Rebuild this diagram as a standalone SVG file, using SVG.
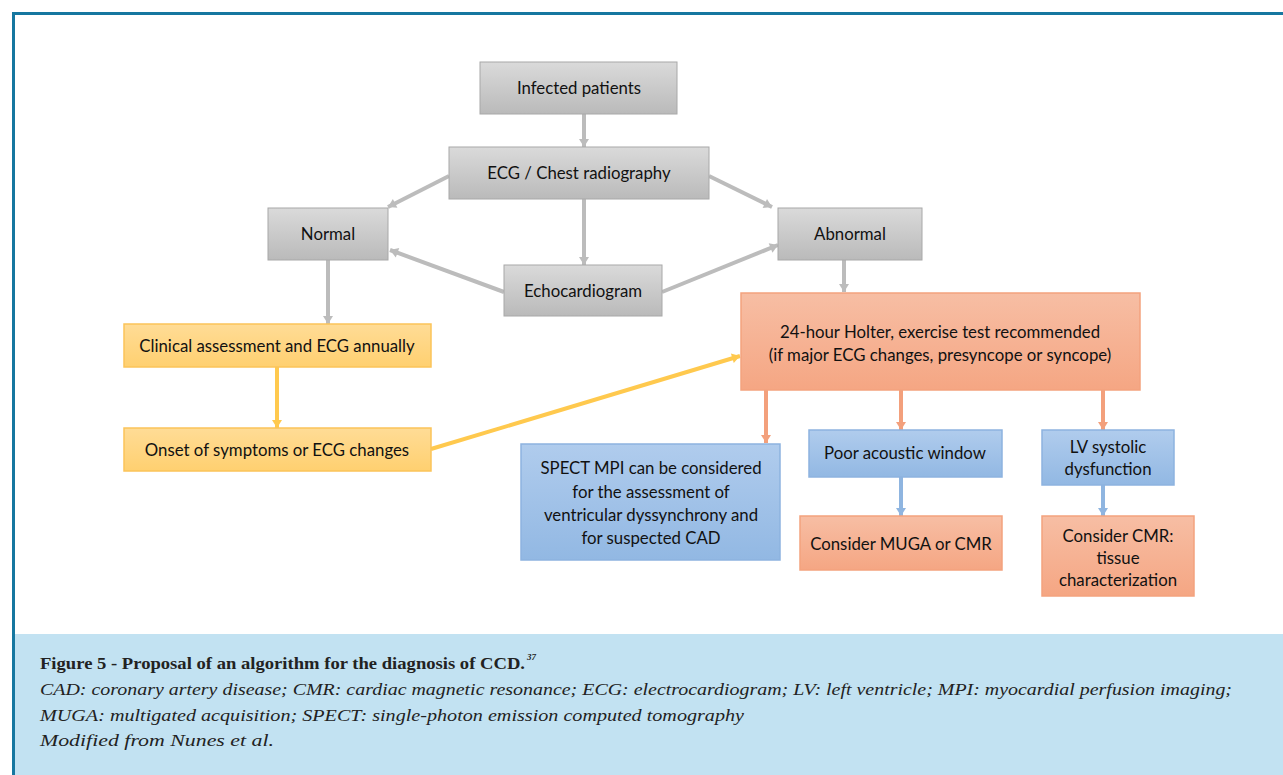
<svg xmlns="http://www.w3.org/2000/svg" width="1283" height="775" viewBox="0 0 1283 775">
<defs>
<linearGradient id="gGray" x1="0" y1="0" x2="0" y2="1"><stop offset="0" stop-color="#dadada"/><stop offset="1" stop-color="#bababa"/></linearGradient>
<linearGradient id="gYel" x1="0" y1="0" x2="0" y2="1"><stop offset="0" stop-color="#ffdc96"/><stop offset="1" stop-color="#ffd070"/></linearGradient>
<linearGradient id="gOra" x1="0" y1="0" x2="0" y2="1"><stop offset="0" stop-color="#f7bea4"/><stop offset="1" stop-color="#f5a683"/></linearGradient>
<linearGradient id="gBlu" x1="0" y1="0" x2="0" y2="1"><stop offset="0" stop-color="#b0cced"/><stop offset="1" stop-color="#92b8e3"/></linearGradient>
<marker id="aGray" markerUnits="userSpaceOnUse" markerWidth="12" markerHeight="12" viewBox="0 0 12 12" refX="10" refY="6" orient="auto"><path d="M2,1 L10,6 L2,11 Z" fill="#bcbcbc"/></marker>
<marker id="aYel" markerUnits="userSpaceOnUse" markerWidth="12" markerHeight="12" viewBox="0 0 12 12" refX="10" refY="6" orient="auto"><path d="M2,1 L10,6 L2,11 Z" fill="#ffc94e"/></marker>
<marker id="aOra" markerUnits="userSpaceOnUse" markerWidth="12" markerHeight="12" viewBox="0 0 12 12" refX="10" refY="6" orient="auto"><path d="M2,1 L10,6 L2,11 Z" fill="#f3a07c"/></marker>
<marker id="aBlu" markerUnits="userSpaceOnUse" markerWidth="12" markerHeight="12" viewBox="0 0 12 12" refX="10" refY="6" orient="auto"><path d="M2,1 L10,6 L2,11 Z" fill="#8fb5e0"/></marker>
</defs>
<style>
.gray{fill:url(#gGray);stroke:#a8a8a8;stroke-width:1}
.yel{fill:url(#gYel);stroke:#fbc45a;stroke-width:1.5}
.ora{fill:url(#gOra);stroke:#f3a27e;stroke-width:1.5}
.blu{fill:url(#gBlu);stroke:#8db3df;stroke-width:1.5}
.t{font-family:Lato,"Open Sans",sans-serif;font-size:16.8px;fill:#111;text-anchor:middle}
.cg{stroke:#bcbcbc;stroke-width:4;fill:none;marker-end:url(#aGray)}
.cy{stroke:#ffc94e;stroke-width:4;fill:none;marker-end:url(#aYel)}
.co{stroke:#f3a07c;stroke-width:4;fill:none;marker-end:url(#aOra)}
.cb{stroke:#8fb5e0;stroke-width:4;fill:none;marker-end:url(#aBlu)}
.cap{font-family:"Liberation Serif","DejaVu Serif",serif;font-size:17.5px;fill:#222}
.sup{font-family:"Liberation Serif","DejaVu Serif",serif;font-size:9px;font-weight:bold;font-style:italic;fill:#222}
</style>
<rect x="0" y="0" width="1283" height="775" fill="#ffffff"/>
<rect x="14" y="634" width="1269" height="141" fill="#c2e2f2"/>
<path d="M13.5,775 L13.5,13.5 L1283,13.5" fill="none" stroke="#1677a0" stroke-width="3"/>

<g id="connectors">
<line class="cg" x1="584" y1="114" x2="584" y2="147"/>
<line class="cg" x1="449" y1="176" x2="388" y2="207"/>
<line class="cg" x1="709" y1="176" x2="772" y2="207"/>
<line class="cg" x1="584" y1="199" x2="584" y2="265"/>
<line class="cg" x1="504" y1="292" x2="390" y2="250"/>
<line class="cg" x1="662" y1="292" x2="778" y2="245"/>
<line class="cg" x1="328" y1="260" x2="328" y2="324"/>
<line class="cg" x1="844" y1="260" x2="844" y2="292"/>
<line class="cy" x1="277" y1="367" x2="277" y2="428"/>
<line class="cy" x1="431" y1="449" x2="740" y2="356"/>
<line class="co" x1="766" y1="390" x2="766" y2="443"/>
<line class="co" x1="901" y1="390" x2="901" y2="430"/>
<line class="co" x1="1103" y1="390" x2="1103" y2="430"/>
<line class="cb" x1="901" y1="477" x2="901" y2="516"/>
<line class="cb" x1="1103" y1="485" x2="1103" y2="516"/>
</g>

<g id="infected"><rect class="gray" x="480" y="62" width="197" height="52"/><text class="t" x="579" y="94">Infected patients</text></g>
<g id="ecg"><rect class="gray" x="449" y="147" width="260" height="52"/><text class="t" x="579" y="179">ECG / Chest radiography</text></g>
<g id="normal"><rect class="gray" x="268" y="208" width="120" height="52"/><text class="t" x="328" y="240">Normal</text></g>
<g id="abnormal"><rect class="gray" x="778" y="208" width="144" height="52"/><text class="t" x="850" y="240">Abnormal</text></g>
<g id="echo"><rect class="gray" x="504" y="265" width="158" height="51"/><text class="t" x="583" y="297">Echocardiogram</text></g>
<g id="clinical"><rect class="yel" x="124" y="324" width="307" height="43"/><text class="t" x="277" y="352">Clinical assessment and ECG annually</text></g>
<g id="onset"><rect class="yel" x="124" y="428" width="307" height="43"/><text class="t" x="277" y="456">Onset of symptoms or ECG changes</text></g>
<g id="holter"><rect class="ora" x="741" y="293" width="399" height="97"/><text class="t" x="940" y="338">24-hour Holter, exercise test recommended</text><text class="t" x="940" y="361">(if major ECG changes, presyncope or syncope)</text></g>
<g id="spect"><rect class="blu" x="521" y="444" width="259" height="116"/><text class="t" x="651" y="474">SPECT MPI can be considered</text><text class="t" x="651" y="498">for the assessment of</text><text class="t" x="651" y="521">ventricular dyssynchrony and</text><text class="t" x="651" y="544">for suspected CAD</text></g>
<g id="poor"><rect class="blu" x="809" y="430" width="193" height="47"/><text class="t" x="905" y="459">Poor acoustic window</text></g>
<g id="lv"><rect class="blu" x="1042" y="430" width="132" height="55"/><text class="t" x="1108" y="453">LV systolic</text><text class="t" x="1108" y="475">dysfunction</text></g>
<g id="muga"><rect class="ora" x="800" y="516" width="202" height="54"/><text class="t" x="901" y="550">Consider MUGA or CMR</text></g>
<g id="cmr"><rect class="ora" x="1042" y="516" width="152" height="80"/><text class="t" x="1118" y="542">Consider CMR:</text><text class="t" x="1118" y="564">tissue</text><text class="t" x="1118" y="586">characterization</text></g>

<g id="caption">
<text class="cap" x="40" y="669" font-weight="bold" textLength="485" lengthAdjust="spacingAndGlyphs">Figure 5 - Proposal of an algorithm for the diagnosis of CCD.</text>
<text class="sup" x="527" y="660">37</text>
<text class="cap" x="40" y="695" font-style="italic" textLength="1192" lengthAdjust="spacingAndGlyphs">CAD: coronary artery disease; CMR: cardiac magnetic resonance; ECG: electrocardiogram; LV: left ventricle; MPI: myocardial perfusion imaging;</text>
<text class="cap" x="40" y="721" font-style="italic" textLength="704" lengthAdjust="spacingAndGlyphs">MUGA: multigated acquisition; SPECT: single-photon emission computed tomography</text>
<text class="cap" x="40" y="746" font-style="italic" textLength="234" lengthAdjust="spacingAndGlyphs">Modified from Nunes et al.</text>
</g>
</svg>
